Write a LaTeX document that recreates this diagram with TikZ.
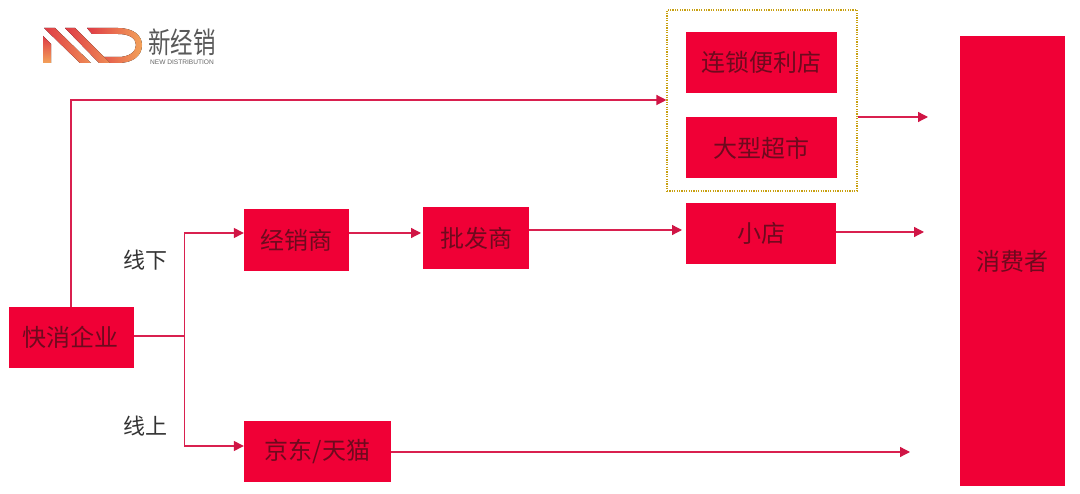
\documentclass[tikz,border=0pt]{standalone}
\usepackage{fontspec}
\setmainfont{Liberation Sans}
\newfontfamily\cjk{Noto Sans CJK SC}
\usetikzlibrary{arrows.meta,positioning}
\definecolor{boxred}{HTML}{F00036}
\definecolor{linered}{HTML}{D9204F}
\definecolor{headred}{HTML}{D01545}
\definecolor{txtdark}{HTML}{6E0A1E}
\definecolor{goldline}{HTML}{C8A010}
\definecolor{logored}{HTML}{DE3A45}
\definecolor{logoorange}{HTML}{F3A25A}
\tikzset{
  x=1pt,y=-1pt,
  redbox/.style={fill=boxred,draw=none,inner sep=0pt,text=txtdark,font=\cjk\fontsize{24}{24}\selectfont},
  conn/.style={draw=linered,line width=1.3pt,-{Triangle[length=10pt,width=10pt,color=headred]}},
  plain/.style={draw=linered,line width=1.3pt},
  lab/.style={inner sep=0pt,text=black!80,font=\cjk\fontsize{22}{22}\selectfont},
}
\newcommand{\rbox}[6]{\node[redbox,minimum width=#4 pt,minimum height=#5 pt] (#1) at (#2,#3) {#6};}
\begin{document}
\begin{tikzpicture}
\useasboundingbox (0,0) rectangle (1080,494);
\fill[white] (0,0) rectangle (1080,494);
% logo
\fill[left color=logored,right color=logoorange]
  (87,28) -- (118,28) .. controls (134,28) and (142,36) .. (142,45) .. controls (142,55) and (134,63) .. (118,63) -- (104,63) -- (99,57) -- (118,57) .. controls (129,57) and (136,52) .. (136,45) .. controls (136,38) and (129,34) .. (118,34) -- (92,34) -- cycle;
\fill[top color=logored,bottom color=logoorange] (43,36) -- (51,44) -- (51,63) -- (43,63) -- cycle;
\fill[left color=logored,right color=logoorange!80!logored] (44,28) -- (55,28) -- (91,63) -- (80,63) -- cycle;
\fill[left color=logored,right color=logoorange!80!logored] (65,28) -- (75,28) -- (110,63) -- (99,63) -- cycle;
\node[inner sep=0pt,text=black!65,font=\cjk\fontsize{22.5}{22}\selectfont] (logotext) at (182,42) {\scalebox{1}[1.3]{新经销}};
\node[inner sep=0pt,text=black!60,font=\fontsize{6.6}{7}\selectfont] (logosub) at (182,62.5) {NEW DISTRIBUTION};
% dotted frame
\node[draw=goldline,line width=1.1pt,dash pattern=on 1.2pt off 1.2pt,minimum width=190pt,minimum height=181pt,inner sep=0pt] (frame) at (762,100.5) {};
% boxes
\rbox{qx}{71}{337.5}{125}{61}{快消企业}
\rbox{jxs}{296.5}{240}{105}{62}{经销商}
\rbox{pfs}{476}{238}{106}{62}{批发商}
\rbox{jd}{317.5}{451.5}{147}{61}{京东/天猫}
\rbox{ls}{761.5}{62.5}{151}{61}{连锁便利店}
\rbox{cs}{761.5}{148}{151}{61}{大型超市}
\rbox{xd}{761}{233.5}{150}{61}{小店}
\rbox{xfz}{1012.5}{261}{105}{450}{消费者}
\node[lab] (xx) at (145,260) {线下};
\node[lab] (xs) at (145,426) {线上};
% connector helpers
\coordinate (branch) at (184.5,336);
\coordinate (top) at (71,100);
\coordinate (fr1) at (928,117);
\coordinate (xd1) at (682,230);
\coordinate (xd2) at (924,232);
\coordinate (jd2) at (910,452);
% connectors
\draw[conn] (qx.north) -- (top) -- (frame.west |- top);
\draw[plain] (qx.east |- branch) -- (branch);
\draw[conn] (branch) -- (184.5,233) -- (jxs.west |- 0,233);
\draw[conn] (branch) -- (184.5,446) -- (jd.west |- 0,446);
\draw[conn] (jxs.east |- 0,233) -- (421,233);
\draw[conn] (pfs.east |- xd1) -- (xd1);
\draw[conn] (frame.east |- fr1) -- (fr1);
\draw[conn] (xd.east |- xd2) -- (xd2);
\draw[conn] (jd.east |- jd2) -- (jd2);
\end{tikzpicture}
\end{document}
